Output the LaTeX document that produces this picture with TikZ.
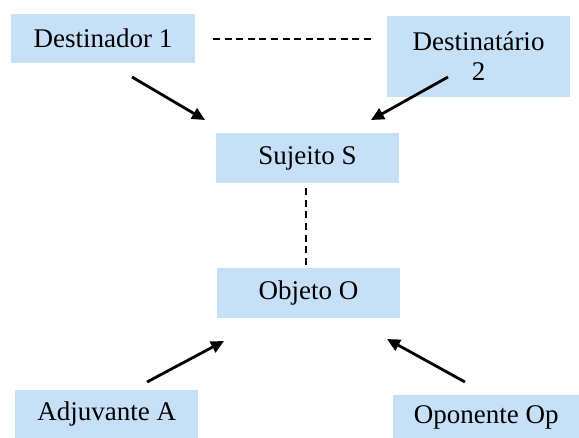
\documentclass[tikz,border=0pt]{standalone}
\usepackage{fontspec}
\setmainfont{Liberation Serif}
\usetikzlibrary{arrows.meta}
\definecolor{boxblue}{HTML}{C6E0F8}
\begin{document}
\begin{tikzpicture}[x=1pt,y=-1pt,
  box/.style={fill=boxblue, draw=none, inner sep=0pt, font=\fontsize{27}{30}\selectfont, align=center},
  arr/.style={line width=2.8pt, -{Triangle[length=13pt,width=12pt]}},
  dsh/.style={line width=2pt, dash pattern=on 7pt off 4.6pt}]
\useasboundingbox (0,0) rectangle (579,437);
\node[box, minimum width=184pt, minimum height=49pt] (dest1) at (103,38.5) {Destinador 1};
\node[box, minimum width=183pt, minimum height=81pt] (dest2) at (478.5,56.5) {Destinatário\\2};
\node[box, minimum width=183pt, minimum height=50pt] (suj) at (307.5,158) {Sujeito S};
\node[box, minimum width=183pt, minimum height=50pt] (obj) at (308.5,293) {Objeto O};
\node[box, minimum width=183pt, minimum height=48pt, anchor=north west] (adj) at (15,390) {Adjuvante A};
\node[box, minimum width=186pt, minimum height=44pt, anchor=north west] (opo) at (393,395) {Oponente Op};
\coordinate (a1s) at (132,77);
\coordinate (a1e) at (205,120);
\coordinate (a2s) at (448,77);
\coordinate (a2e) at (371,120);
\coordinate (a3s) at (147,382);
\coordinate (a3e) at (224,341);
\coordinate (a4s) at (465,382);
\coordinate (a4e) at (387,339);
\coordinate (h1) at (213,39);
\coordinate (h2) at (375,39);
\draw[arr] (a1s) -- (a1e);
\draw[arr] (a2s) -- (a2e);
\draw[arr] (a3s) -- (a3e);
\draw[arr] (a4s) -- (a4e);
\draw[dsh] (h1) -- (h2);
\draw[dsh] ([yshift=-5pt]suj.south -| 306,0) -- (obj.north -| 306,0);
\end{tikzpicture}
\end{document}
